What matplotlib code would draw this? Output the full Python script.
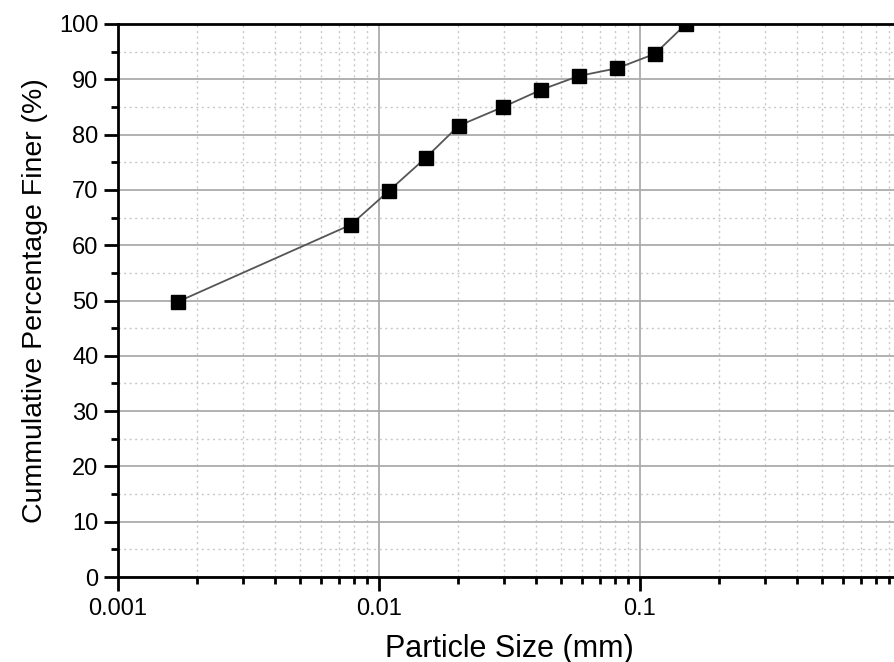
import matplotlib.pyplot as plt
import matplotlib.ticker as mticker

# particle size (mm) and cumulative percentage finer (%)
size_mm = [0.0017, 0.0078, 0.0109, 0.0151, 0.0202, 0.0299, 0.0418, 0.0583, 0.0817, 0.114, 0.150]
finer = [49.8, 63.7, 69.8, 75.8, 81.6, 85.0, 88.1, 90.6, 92.0, 94.6, 100.0]

x_ticks = [0.001, 0.01, 0.1, 1]
x_tick_labels = ['0.001', '0.01', '0.1', '1']
y_ticks = list(range(0, 101, 10))

plt.rcParams['font.family'] = ['Liberation Sans', 'DejaVu Sans']

fig = plt.figure(figsize=(8.95, 6.62), dpi=100)
ax = fig.add_axes([118 / 895, 85 / 662, 783 / 895, 553 / 662])

ax.plot(size_mm, finer, color='#555555', lw=1.3, marker='s', ms=10,
        mfc='black', mec='black', zorder=3)

ax.set_xscale('log')
ax.set_xlim(0.001, 1)
ax.set_ylim(0, 100)
ax.set_xticks(x_ticks)
ax.set_xticklabels(x_tick_labels)
ax.xaxis.set_minor_locator(mticker.LogLocator(base=10, subs=range(2, 10)))
ax.xaxis.set_minor_formatter(mticker.NullFormatter())
ax.set_yticks(y_ticks)
ax.yaxis.set_minor_locator(mticker.MultipleLocator(5))

ax.grid(which='major', color='#ababab', lw=1.3, ls='-')
ax.grid(which='minor', color='#c8c8c8', lw=1.0, ls=(0, (1.5, 2.5)))
ax.set_axisbelow(True)

for side in ['left', 'bottom', 'top']:
    ax.spines[side].set_linewidth(2)
ax.spines['right'].set_visible(False)

ax.tick_params(which='major', length=10, width=2, labelsize=17, direction='out')
ax.tick_params(axis='y', which='minor', length=5, width=2, direction='out')
ax.tick_params(axis='x', which='minor', length=5, width=2, direction='out')
ax.tick_params(axis='x', which='major', pad=5)
ax.tick_params(axis='y', which='major', pad=4)

ax.set_xlabel('Particle Size (mm)', fontsize=22, labelpad=10)
ax.set_ylabel('Cummulative Percentage Finer (%)', fontsize=20.5, labelpad=8)

fig.savefig('out.png', dpi=100)
